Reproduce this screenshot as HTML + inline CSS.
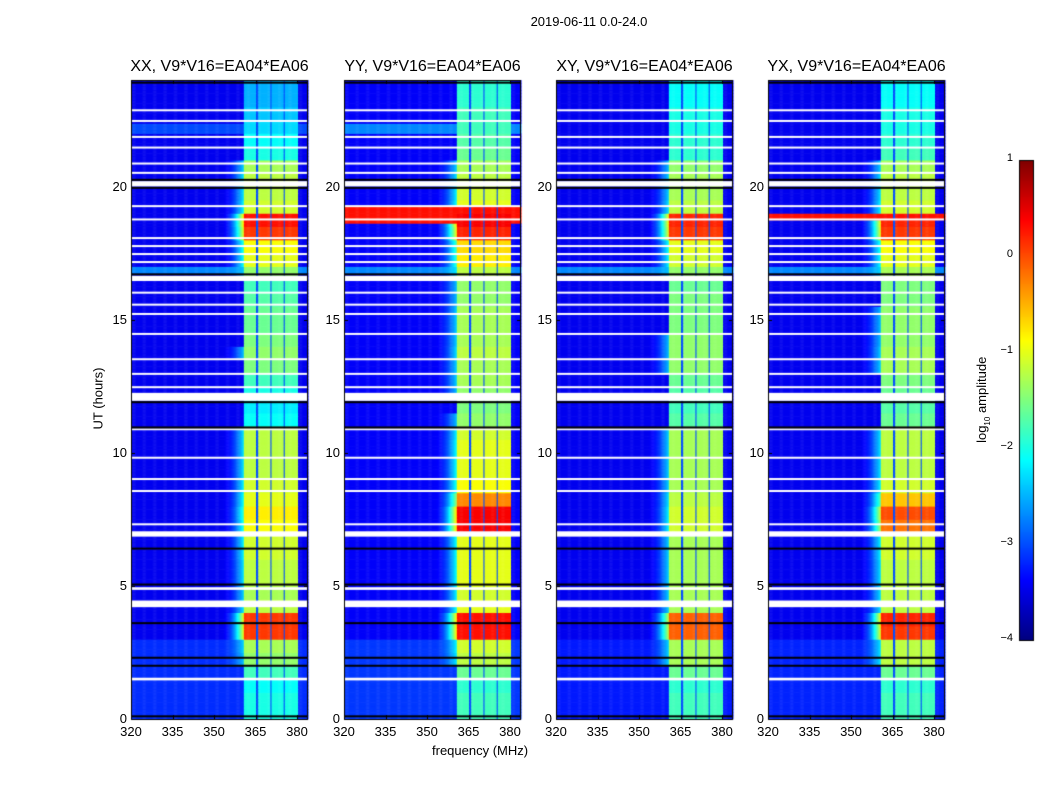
<!DOCTYPE html>
<html><head><meta charset="utf-8"><style>
body{margin:0;background:#fff;width:1050px;height:800px;overflow:hidden;font-family:"Liberation Sans",sans-serif;}
.t{position:absolute;color:#000;white-space:nowrap;}
canvas{position:absolute;}
</style></head><body>
<div class="t" style="left:0;width:1178px;text-align:center;top:14px;font-size:13px;">2019-06-11 0.0-24.0</div>
<div class="t" style="left:432px;top:743px;font-size:13px;">frequency (MHz)</div>
<div class="t" style="left:60px;top:391px;font-size:13px;transform:rotate(-90deg);transform-origin:center;width:76px;text-align:center;">UT (hours)</div>
<div class="t" style="left:933px;top:391px;font-size:13px;transform:rotate(-90deg);width:100px;text-align:center;">log<sub style="font-size:8px">10</sub> amplitude</div>
<canvas id="cv" width="1050" height="800" style="left:0;top:0"></canvas>
<div id="labels"></div>
<script>
const panelTitles=["XX, V9*V16=EA04*EA06","YY, V9*V16=EA04*EA06","XY, V9*V16=EA04*EA06","YX, V9*V16=EA04*EA06"];
const xTicks=[320,335,350,365,380];
const yTicks=[0,5,10,15,20];
const cbTicks=[1,0,-1,-2,-3,-4];
const bandXX=[-2.0,-2.0,-2.1,-1.8,-1.4,-1.3,0.1,0.1,-1.2,-1.3,-1.2,-1.2,-1.1,-1.1,-0.9,-0.8,-1.0,-1.1,-1.2,-1.2,-1.2,-1.2,-2.1,-2.2,-2.0,-1.8,-1.5,-1.4,-1.5,-1.6,-1.6,-1.7,-1.8,-1.4,-1.0,-0.9,0.1,0.3,-1.1,-1.2,-1.2,-1.3,-2.0,-2.1,-2.3,-2.4,-2.5,-2.5];
const bandYY=[-1.8,-1.8,-1.9,-1.6,-1.2,-1.1,0.3,0.3,-1.0,-1.1,-1.0,-1.0,-1.0,-1.0,0.4,0.4,-0.3,-0.9,-1.0,-1.0,-1.0,-1.1,-1.4,-1.5,-1.4,-1.3,-1.3,-1.2,-1.3,-1.3,-1.3,-1.4,-1.4,-1.2,-0.8,-0.7,0.2,0.4,-1.0,-1.1,-1.2,-1.3,-1.6,-1.7,-1.8,-1.8,-1.9,-1.9];
const bandXY=[-1.8,-1.8,-1.9,-1.6,-1.3,-1.3,-0.1,-0.1,-1.3,-1.3,-1.3,-1.3,-1.3,-1.3,-1.1,-1.1,-1.2,-1.3,-1.3,-1.3,-1.3,-1.3,-1.7,-1.8,-1.7,-1.6,-1.4,-1.4,-1.4,-1.5,-1.5,-1.5,-1.6,-1.4,-1.1,-1.0,0.1,0.2,-1.2,-1.3,-1.3,-1.4,-1.9,-1.9,-2.0,-2.0,-2.1,-2.1];
const bandYX=[-1.8,-1.8,-1.9,-1.6,-1.2,-1.2,0.1,0.2,-1.2,-1.2,-1.2,-1.2,-1.1,-1.1,-0.2,0.0,-0.6,-1.1,-1.2,-1.2,-1.2,-1.2,-1.6,-1.7,-1.6,-1.5,-1.3,-1.3,-1.4,-1.4,-1.4,-1.5,-1.5,-1.3,-1.0,-0.9,0.1,0.2,-1.1,-1.2,-1.2,-1.3,-1.8,-1.9,-2.0,-2.0,-2.1,-2.1];
const bands=[bandXX,bandYY,bandXY,bandYX];
const bgEarly=[-3.15,-3.1,-3.25,-3.2];
const bgLevel=[-3.45,-3.4,-3.45,-3.45];
const broadband=[[1,18.6,19.2,0.3],[3,18.8,18.95,0.3],[0,16.7,17.0,-2.7],[1,16.7,17.0,-2.7],[2,16.7,17.0,-2.7],[3,16.7,17.0,-2.7],[1,22.0,22.4,-2.7],[0,22.0,22.4,-3.0]];
const flags=[[1.45,1.55],[4.2,4.45],[4.85,4.95],[6.85,7.05],[7.3,7.35],[8.55,8.6],[9.0,9.05],[9.8,9.85],[10.85,10.92],[11.95,12.25],[12.45,12.5],[12.95,13.0],[13.5,13.55],[14.45,14.5],[15.2,15.25],[15.55,15.6],[16.0,16.05],[16.45,16.65],[17.15,17.2],[17.45,17.5],[17.75,17.8],[18.05,18.1],[18.75,18.8],[19.25,19.3],[20.0,20.2],[20.5,20.55],[20.85,20.9],[21.45,21.5],[21.85,21.9],[22.45,22.5],[22.85,22.9]];
const blackLines=[0.1,2.0,2.3,3.6,5.05,6.4,10.95,11.9,16.7,19.95,20.25,23.9];
const subGaps=[365.6,370.6,375.4];
const bandLo=360.8,bandHi=380.2;

const lefts=[131,344,556,768],W=177,TOP=80,BOT=719,F0=320,F1=320+W/41.5*15;
const xs=(i,f)=>lefts[i]+(f-F0)/(F1-F0)*W;
const ys=h=>BOT-h/24*(BOT-TOP);
function jet(v){let t=(v+4)/5;t=Math.max(0,Math.min(1,t));
 const c=x=>Math.max(0,Math.min(1,x));
 const r=c(1.5-Math.abs(4*t-3)),g=c(1.5-Math.abs(4*t-2)),b=c(1.5-Math.abs(4*t-1));
 return `rgb(${r*255|0},${g*255|0},${b*255|0})`;}
function val(i,h,f){const row=Math.min(47,Math.floor(h*2));
 let bg=h<3?bgEarly[i]:bgLevel[i];
 for(const e of broadband){if(e[0]===i&&h>=e[1]&&h<e[2])bg=e[3];}
 const b=bands[i][row];
 if(f>=bandLo&&f<=bandHi){let v=Math.max(b,bg);for(const g of subGaps)if(Math.abs(f-g)<0.35)v=Math.min(v,-3.0);return v;}
 if(f<bandLo&&f>bandLo-8&&b>-1.5){const s=(f-(bandLo-8))/8;return Math.max(bg,bg+s*s*(b-1.0-bg));}
 return bg;}
const cv=document.getElementById('cv'),ctx=cv.getContext('2d');
const NT=192,NF=160;
for(let i=0;i<4;i++){
 for(let r=0;r<NT;r++){const h0=r*24/NT,h1=(r+1)*24/NT,hm=(h0+h1)/2;
  for(let k=0;k<NF;k++){const f0=F0+k*(F1-F0)/NF,f1=F0+(k+1)*(F1-F0)/NF;
   ctx.fillStyle=jet(val(i,hm,(f0+f1)/2));
   const x0=xs(i,f0),y0=ys(h1);ctx.fillRect(x0,y0,xs(i,f1)-x0+0.5,ys(h0)-y0+0.5);}}
 ctx.fillStyle='#fff';
 for(const fl of flags){const y0=ys(fl[1]);ctx.fillRect(lefts[i],y0,W,Math.max(2,ys(fl[0])-y0));}
 ctx.fillStyle='#000';
 for(const bl of blackLines){ctx.fillRect(lefts[i],ys(bl)-1,W,2);}
 ctx.strokeStyle='#000';ctx.lineWidth=1;ctx.strokeRect(lefts[i]+0.5,TOP+0.5,W-1,BOT-TOP);
 for(const t of xTicks){const x=Math.round(xs(i,t))+0.5;ctx.beginPath();ctx.moveTo(x,BOT);ctx.lineTo(x,BOT-4);ctx.moveTo(x,TOP);ctx.lineTo(x,TOP+4);ctx.stroke();}
 for(const t of yTicks){const y=Math.round(ys(t))+0.5;ctx.beginPath();ctx.moveTo(lefts[i],y);ctx.lineTo(lefts[i]+4,y);ctx.moveTo(lefts[i]+W,y);ctx.lineTo(lefts[i]+W-4,y);ctx.stroke();}
}
const CBX=1019,CBW=15,CBT=160,CBB=640;
for(let y=CBT;y<CBB;y++){ctx.fillStyle=jet(1-(y-CBT)/(CBB-CBT)*5);ctx.fillRect(CBX,y,CBW,1);}
ctx.strokeStyle='#000';ctx.strokeRect(CBX+0.5,CBT+0.5,CBW-1,CBB-CBT);
const L=document.getElementById('labels');
function lab(name,txt,x,y,align,size){const d=document.createElement('div');d.className='t';
 
 
 d.style.fontSize=size+'px';d.style.top=y+'px';d.textContent=txt;
 if(align==='c'){d.style.left=(x-40)+'px';d.style.width='80px';d.style.textAlign='center';}
 else if(align==='r'){d.style.left=(x-60)+'px';d.style.width='60px';d.style.textAlign='right';}
 else d.style.left=x+'px';L.appendChild(d);}
for(let i=0;i<4;i++){
 const d=document.createElement('div');d.className='t';
 
 
 d.style.cssText=`left:${lefts[i]-40}px;width:${W+80}px;text-align:center;top:58px;font-size:16px;`;d.textContent=panelTitles[i];L.appendChild(d);
 for(const t of xTicks)lab('x-tick-label',String(t),xs(i,t),724,'c',13);
 for(const t of yTicks)lab('y-tick-label',String(t),lefts[i]-4,ys(t)-8,'r',13);
}
for(const t of cbTicks){lab('colorbar-tick-label',(t<0?'\u2212':'')+Math.abs(t),1013,CBB-(t+4)/5*(CBB-CBT)-8,'r',11);}
</script>
</body></html>
